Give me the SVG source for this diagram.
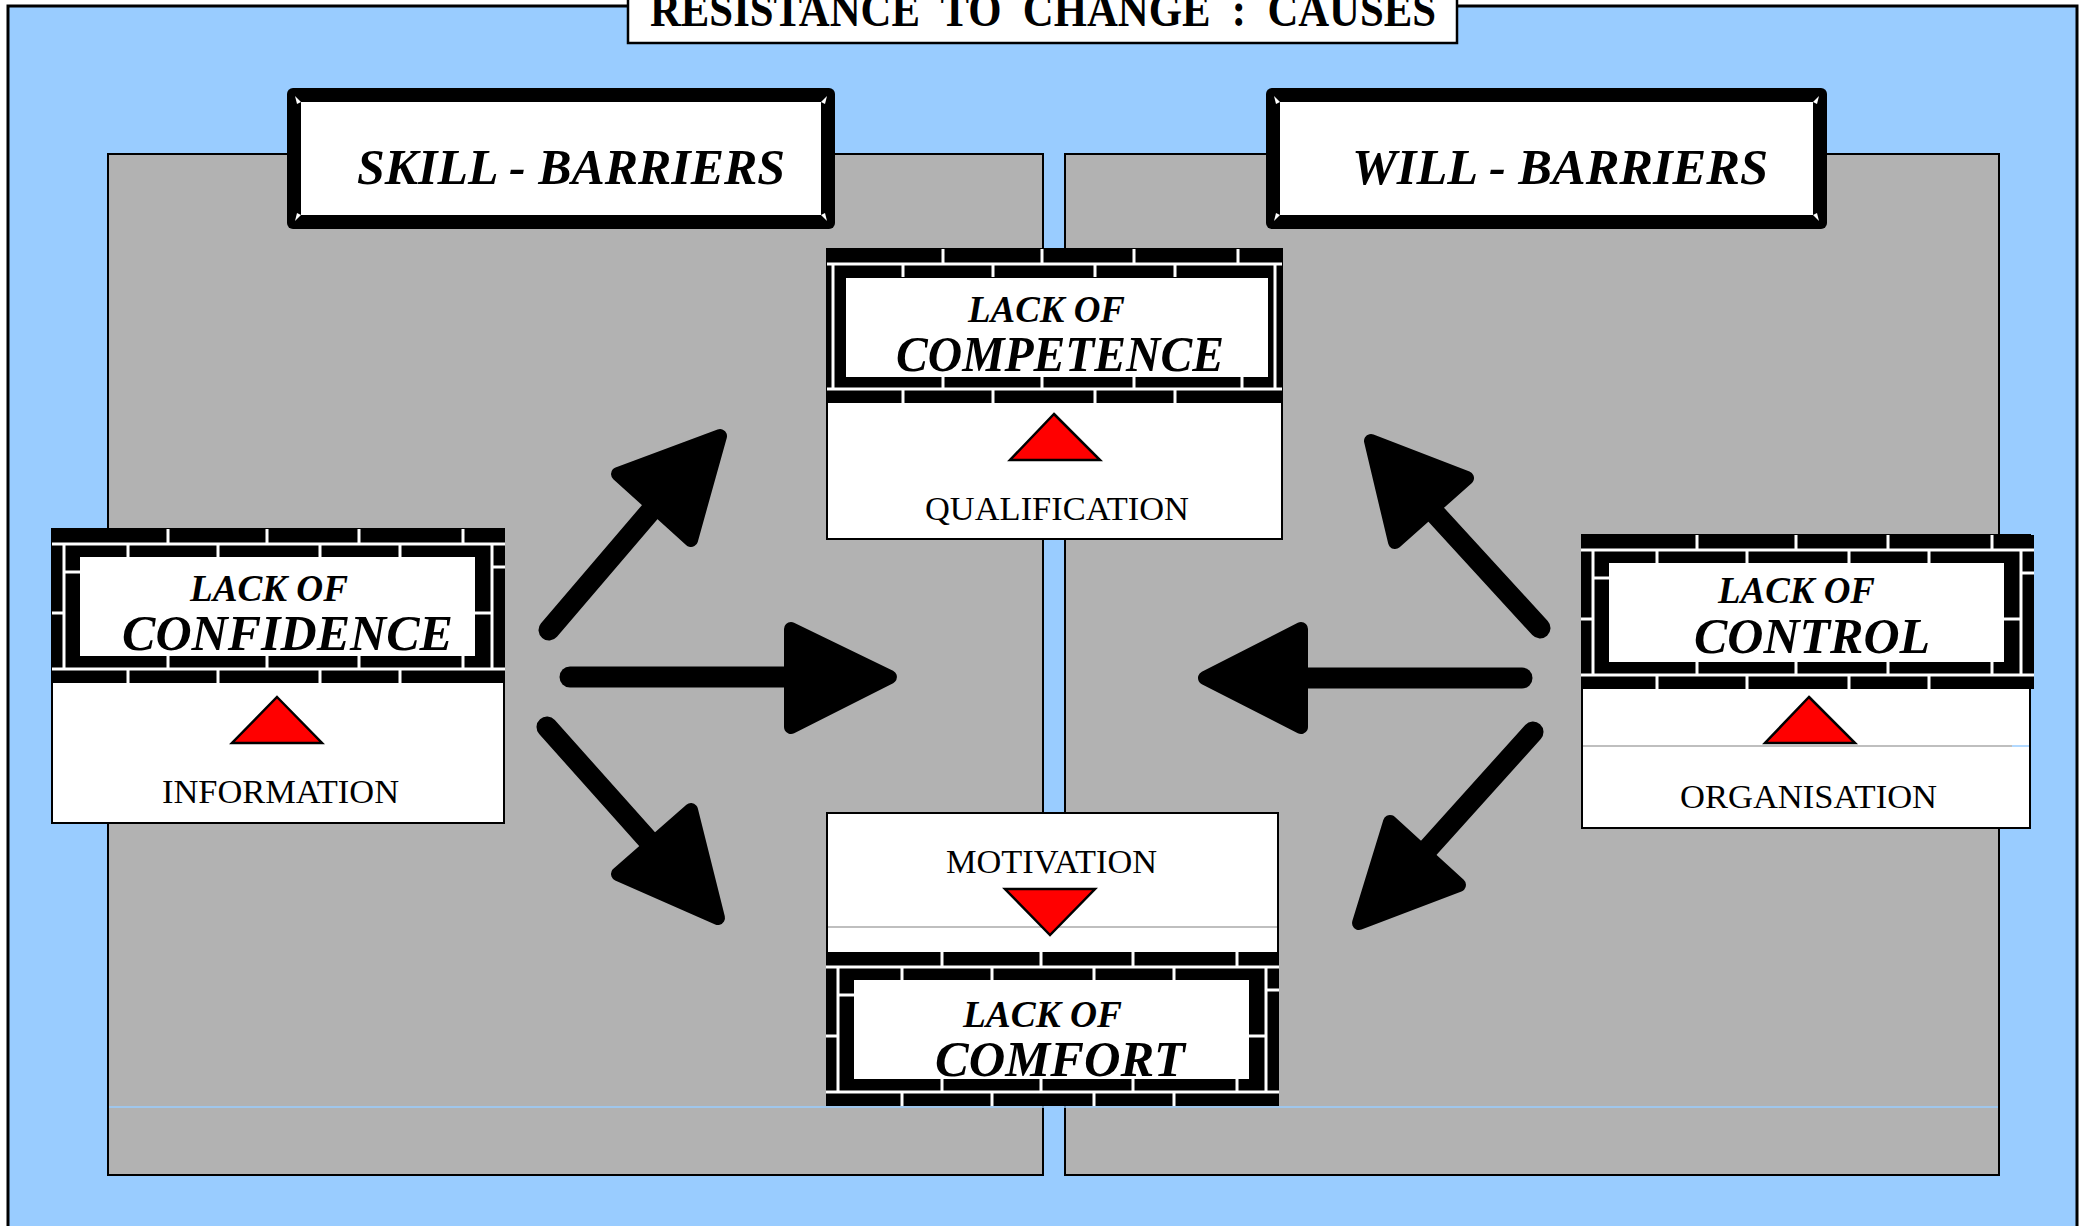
<svg xmlns="http://www.w3.org/2000/svg" width="2087" height="1226" viewBox="0 0 2087 1226">
<style>
.title{font-family:"Liberation Serif",serif;font-weight:bold;font-size:48px;fill:#000}
.head{font-family:"Liberation Serif",serif;font-weight:bold;font-style:italic;font-size:50px;fill:#000}
.lack{font-family:"Liberation Serif",serif;font-weight:bold;font-style:italic;font-size:37px;fill:#000}
.big{font-family:"Liberation Serif",serif;font-weight:bold;font-style:italic;font-size:50px;fill:#000}
.lbl{font-family:"Liberation Serif",serif;font-size:34px;fill:#000}
.panel{fill:#B2B2B2;stroke:#000;stroke-width:2}
.box{fill:#fff;stroke:#000;stroke-width:2}
.mortar{stroke:#fff;stroke-width:3;fill:none}
.tri{fill:#FF0000;stroke:#000;stroke-width:2.5;stroke-linejoin:miter}
.shaft{stroke:#000;stroke-width:21;stroke-linecap:round;fill:none}
.ahead{fill:#000;stroke:#000;stroke-width:14;stroke-linejoin:round}
.corner{fill:#fff}
</style>
<defs>
<g id="bricks">
<rect width="453" height="154" fill="#000"/>
<rect x="28" y="28" width="395" height="99" fill="#fff"/>
<path class="mortar" d="M0 15H453M0 140H453M116 0V14M215 0V14M307 0V14M411 0V14M76 15V28M166 15V28M268 15V28M348 15V28M116 127V140M215 127V140M307 127V140M411 127V140M76 140V154M166 140V154M268 140V154M348 140V154M12 15V140M0 84H12M12 43H28M440 15V140M440 38H453M423 84H440"/>
</g>
<g id="bricks2">
<rect width="455" height="154" fill="#000"/>
<rect x="19" y="29" width="422" height="99" fill="#fff"/>
<path class="mortar" d="M0 15H455M0 140H455M116 0V14M215 0V14M307 0V14M411 0V14M76 15V28M166 15V28M268 15V28M348 15V28M116 128V140M215 128V140M307 128V140M415 128V140M76 140V154M166 140V154M268 140V154M348 140V154M6 15V140M448 15V140"/>
</g>
</defs>

<g id="background">
<rect x="8" y="6" width="2069" height="1250" fill="#99CCFF" stroke="#000" stroke-width="3"/>
<rect class="panel" x="108" y="154" width="935" height="1021"/>
<rect class="panel" x="1065" y="154" width="934" height="1021"/>
<line x1="109" y1="1107" x2="1998" y2="1107" stroke="#99CCFF" stroke-width="1.5"/>
</g>

<g id="title">
<rect x="628" y="-10" width="829" height="53" fill="#fff" stroke="#000" stroke-width="2.5"/>
<text class="title" x="650" y="26" textLength="786" lengthAdjust="spacingAndGlyphs" xml:space="preserve">RESISTANCE  TO  CHANGE  :  CAUSES</text>
</g>

<g id="skill-barriers">
<rect x="287" y="88" width="548" height="141" rx="6" fill="#000"/>
<rect x="301" y="102" width="520" height="113" fill="#fff"/>
<polygon class="corner" points="295,96 301,102 297,104"/>
<polygon class="corner" points="827,96 821,102 825,104"/>
<polygon class="corner" points="295,221 301,215 297,213"/>
<polygon class="corner" points="827,221 821,215 825,213"/>
<text class="head" x="357" y="184" textLength="428" lengthAdjust="spacingAndGlyphs">SKILL - BARRIERS</text>
</g>

<g id="will-barriers">
<rect x="1266" y="88" width="561" height="141" rx="6" fill="#000"/>
<rect x="1280" y="102" width="533" height="113" fill="#fff"/>
<polygon class="corner" points="1274,96 1280,102 1276,104"/>
<polygon class="corner" points="1819,96 1813,102 1817,104"/>
<polygon class="corner" points="1274,221 1280,215 1276,213"/>
<polygon class="corner" points="1819,221 1813,215 1817,213"/>
<text class="head" x="1352" y="184" textLength="416" lengthAdjust="spacingAndGlyphs">WILL - BARRIERS</text>
</g>

<g id="lack-of-competence">
<rect class="box" x="827" y="249" width="455" height="290"/>
<use href="#bricks2" x="827" y="249"/>
<text class="lack" x="968" y="322" textLength="157" lengthAdjust="spacingAndGlyphs">LACK OF</text>
<text class="big" x="896" y="371" textLength="328" lengthAdjust="spacingAndGlyphs">COMPETENCE</text>
<polygon class="tri" points="1054,414 1100,460 1010,460"/>
<text class="lbl" x="925" y="520" textLength="264" lengthAdjust="spacingAndGlyphs">QUALIFICATION</text>
</g>

<g id="lack-of-confidence">
<rect class="box" x="52" y="529" width="452" height="294"/>
<use href="#bricks" x="52" y="529"/>
<text class="lack" x="190" y="601" textLength="158" lengthAdjust="spacingAndGlyphs">LACK OF</text>
<text class="big" x="122" y="650" textLength="331" lengthAdjust="spacingAndGlyphs">CONFIDENCE</text>
<polygon class="tri" points="277,697 322,743 232,743"/>
<text class="lbl" x="162" y="803" textLength="237" lengthAdjust="spacingAndGlyphs">INFORMATION</text>
</g>

<g id="lack-of-control">
<rect class="box" x="1582" y="535" width="448" height="293"/>
<line x1="1583" y1="746" x2="2012" y2="746" stroke="#AAAAAA" stroke-width="1.5"/>
<line x1="2012" y1="746" x2="2029" y2="746" stroke="#99CCFF" stroke-width="1.5"/>
<use href="#bricks" x="1581" y="535"/>
<text class="lack" x="1718" y="603" textLength="157" lengthAdjust="spacingAndGlyphs">LACK OF</text>
<text class="big" x="1694" y="653" textLength="236" lengthAdjust="spacingAndGlyphs">CONTROL</text>
<polygon class="tri" points="1809,697 1855,743 1765,743"/>
<text class="lbl" x="1680" y="808" textLength="257" lengthAdjust="spacingAndGlyphs">ORGANISATION</text>
</g>

<g id="lack-of-comfort">
<rect class="box" x="827" y="813" width="451" height="292"/>
<line x1="828" y1="927" x2="1277" y2="927" stroke="#AAAAAA" stroke-width="1.5"/>
<text class="lbl" x="946" y="873" textLength="211" lengthAdjust="spacingAndGlyphs">MOTIVATION</text>
<polygon class="tri" points="1005,889 1095,889 1050,935"/>
<use href="#bricks" x="826" y="952"/>
<text class="lack" x="963" y="1027" textLength="159" lengthAdjust="spacingAndGlyphs">LACK OF</text>
<text class="big" x="935" y="1076" textLength="250" lengthAdjust="spacingAndGlyphs">COMFORT</text>
</g>

<g id="connectors">
<line class="shaft" x1="549" y1="630" x2="655" y2="506"/>
<polygon class="ahead" points="720,436 691,540 618,474"/>
<line class="shaft" x1="570" y1="677" x2="800" y2="677"/>
<polygon class="ahead" points="791,629 890,677 791,727"/>
<line class="shaft" x1="547" y1="727" x2="655" y2="848"/>
<polygon class="ahead" points="691,810 718,918 618,874"/>
<line class="shaft" x1="1540" y1="628" x2="1430" y2="508"/>
<polygon class="ahead" points="1371,441 1467,478 1395,542"/>
<line class="shaft" x1="1522" y1="678" x2="1300" y2="678"/>
<polygon class="ahead" points="1301,629 1205,678 1301,727"/>
<line class="shaft" x1="1533" y1="732" x2="1425" y2="852"/>
<polygon class="ahead" points="1390,822 1459,885 1359,923"/>
</g>
</svg>
